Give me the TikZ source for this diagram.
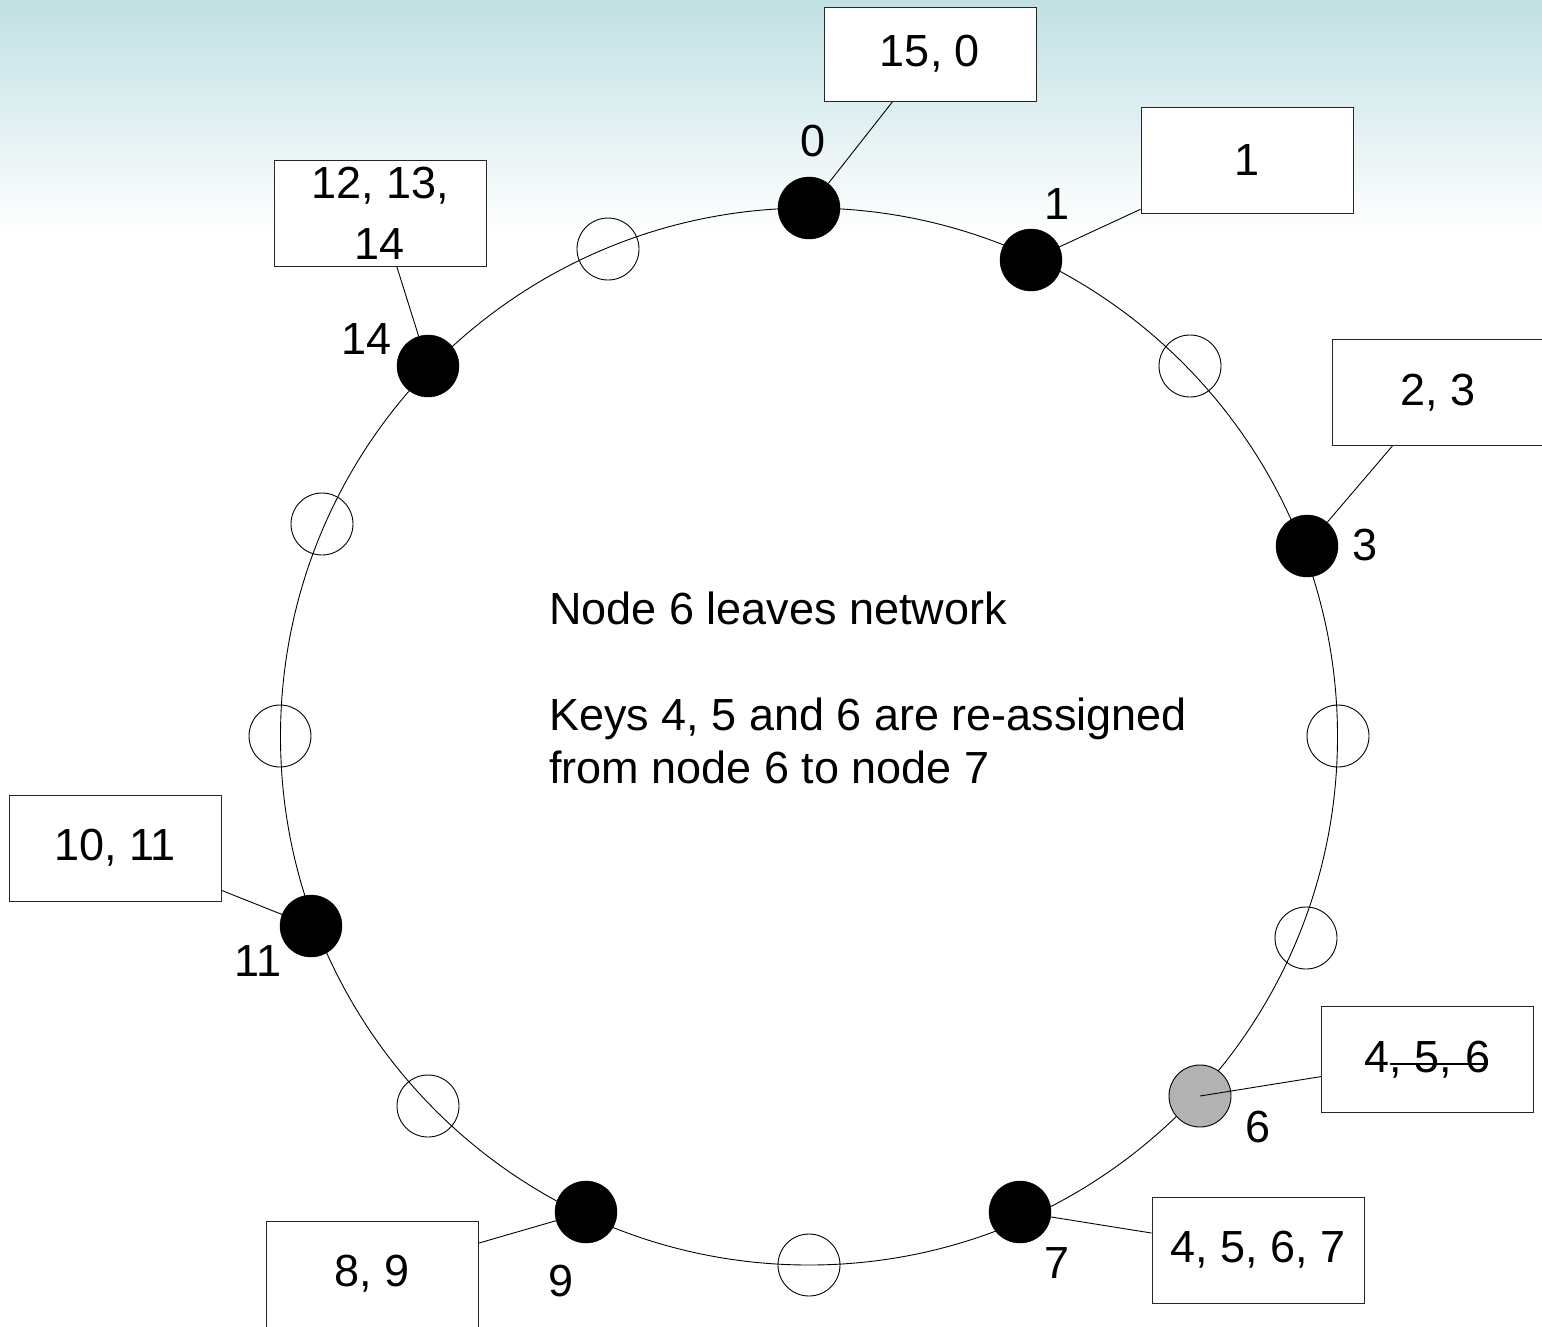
\documentclass[tikz,border=0pt]{standalone}
\usepackage{fontspec}
\setmainfont{Liberation Sans}
\usepackage{xcolor}
\usepackage{tikz}
\usetikzlibrary{arrows.meta}
\usetikzlibrary{positioning}
\definecolor{skytop}{RGB}{192,224,227}

\begin{document}
\begin{tikzpicture}[
        x=1pt, y=-1pt,
        peer/.style={circle, draw=black, fill=black, minimum size=62pt, inner sep=0pt},
        slot/.style={circle, draw=black, line width=0.9pt, minimum size=62pt, inner sep=0pt},
        gone/.style={circle, draw=black, line width=0.9pt, fill=gray!60, minimum size=62pt, inner sep=0pt},
        keybox/.style={draw=black!85, line width=1pt, fill=white, minimum width=212pt, minimum height=106pt, inner sep=0pt, font=\fontsize{45}{61}\selectfont, align=center},
        idlabel/.style={font=\fontsize{45}{54}\selectfont, inner sep=0pt},
        link/.style={line width=0.9pt, black}
    ]

    % Fondo
    \path[use as bounding box, clip] (0,0) rectangle (1542,1326);
    \shade[top color=skytop, bottom color=white] (0,0) rectangle (1542,232);

    % Anillo
    \draw[line width=0.9pt] (809,736.5) circle (528.5);

    % Nodos del anillo
    \node[peer] (n0) at (809,208) {};
    \node[peer] (n1) at (1031,260) {};
    \node[slot] (n2) at (1190,366) {};
    \node[peer] (n3) at (1307,546) {};
    \node[slot] (n4) at (1338,736) {};
    \node[slot] (n5) at (1306,938) {};
    \node[gone] (n6) at (1200,1096) {};
    \node[peer] (n7) at (1020,1212) {};
    \node[slot] (n8) at (809,1265) {};
    \node[peer] (n9) at (586,1212) {};
    \node[slot] (n10) at (428,1106) {};
    \node[peer] (n11) at (311,926) {};
    \node[slot] (n12) at (280,736) {};
    \node[slot] (n13) at (322,524) {};
    \node[peer] (n14) at (428,366) {};
    \node[slot] (n15) at (608,249) {};

    % Etiquetas de los nodos
    \node[idlabel] (l0) at (813,141) {0};
    \node[idlabel] (l1) at (1057,204) {1};
    \node[idlabel] (l3) at (1365,545) {3};
    \node[idlabel] (l6) at (1258,1127) {6};
    \node[idlabel] (l7) at (1057,1263) {7};
    \node[idlabel] (l9) at (561,1281) {9};
    \node[idlabel] (l11) at (258,961) {11};
    \node[idlabel] (l14) at (367,339) {14};

    % Claves
    \node[keybox, minimum height=94pt] (b0) at (930,54) {15, 0};
    \node[keybox] (b1) at (1247,160) {1};
    \node[keybox] (b3) at (1438,392.5) {2, 3};
    \node[keybox] (b6) at (1427.5,1059.5) {4, 5, 6};
    \node[keybox] (b7) at (1258,1250) {4, 5, 6, 7};
    \node[keybox] (b9) at (372,1274) {8, 9};
    \node[keybox] (b11) at (115,848) {10, 11};
    \node[keybox] (b14) at (380,213) {12, 13,\\14};

    % Tachado
    \draw[line width=1.6pt] (1390,1064) -- (1488,1064);

    % Conexiones Claves -> Nodo
    \draw[link] (b0) -- (n0);
    \draw[link] (b1) -- (n1);
    \draw[link] (b3) -- (n3);
    \draw[link] (b6) -- (n6.center);
    \draw[link] (b7) -- (n7);
    \draw[link] (b9) -- (n9);
    \draw[link] (b11) -- (n11);
    \draw[link] (b14) -- (n14);

    % Texto
    \node[anchor=north west, align=left, inner sep=0pt, font=\fontsize{45}{53}\selectfont] (msg) at (549,592)
        {Node 6 leaves network\\[53pt]Keys 4, 5 and 6 are re-assigned\\from node 6 to node 7};

\end{tikzpicture}
\end{document}
